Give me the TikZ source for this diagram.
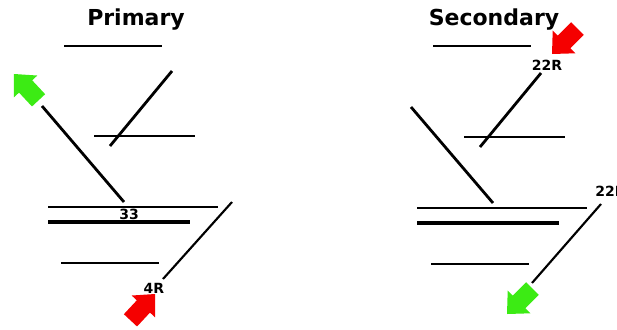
\documentclass[tikz,border=0pt]{standalone}
\usepackage{fontspec}
\setmainfont{DejaVu Sans}
\usepackage{xcolor}
\usepackage{tikz}
\definecolor{arrowred}{RGB}{245,0,0}
\definecolor{arrowgreen}{RGB}{60,235,20}

\begin{document}
\begin{tikzpicture}[x=0.75pt,y=-0.75pt,
  rwy/.style={line width=2.1pt},
  thickrwy/.style={line width=2.4pt},
  thinrwy/.style={line width=1.6pt},
  lbl/.style={font=\fontsize{10.5}{12}\selectfont\bfseries, inner sep=0pt},
  ttl/.style={font=\fontsize{16.5}{19}\selectfont\bfseries, inner sep=0pt, anchor=base},
  blockarrow/.pic={\path[pic actions] (0,0) -- (-17,-16) -- (-17,-9) -- (-36,-9) -- (-36,9) -- (-17,9) -- (-17,16) -- cycle;}]
\useasboundingbox[fill=white] (0,0) rectangle (617,329);

% primary
\node[ttl](primary) at (136,25){Primary};
\draw[rwy] (64,46) -- (162,46);
\draw[rwy] (172,71) -- (110,146);
\draw[rwy] (94,136) -- (195,136);
\draw[rwy] (124,202) -- (42,106);
\pic[fill=arrowgreen, rotate=133] at (14,74) {blockarrow};
\draw[rwy] (48,207) -- (218,207);
\node[lbl](r33) at (129,214){33};
\draw[thickrwy] (48,222) -- (190,222);
\draw[rwy] (61,263) -- (159,263);
\draw[thinrwy] (232,202) -- (163,279);
\node[lbl](r4r) at (154,288){4R};
\pic[fill=arrowred, rotate=47] at (155,294) {blockarrow};

% secondary
\node[ttl](secondary) at (494,25){Secondary};
\draw[rwy] (433,46) -- (531,46);
\pic[fill=arrowred, rotate=225] at (552,54) {blockarrow};
\node[lbl](r22top) at (547,65){22R};
\draw[rwy] (541,73) -- (480,147);
\draw[rwy] (464,137) -- (565,137);
\draw[rwy] (411,107) -- (493,203);
\draw[rwy] (417,208) -- (587,208);
\draw[thickrwy] (417,223) -- (559,223);
\draw[rwy] (431,264) -- (529,264);
\node[lbl, anchor=west](r22right) at (595,191){22R};
\draw[thinrwy] (601,204) -- (532,283);
\pic[fill=arrowgreen, rotate=225] at (507,314) {blockarrow};
\end{tikzpicture}
\end{document}
